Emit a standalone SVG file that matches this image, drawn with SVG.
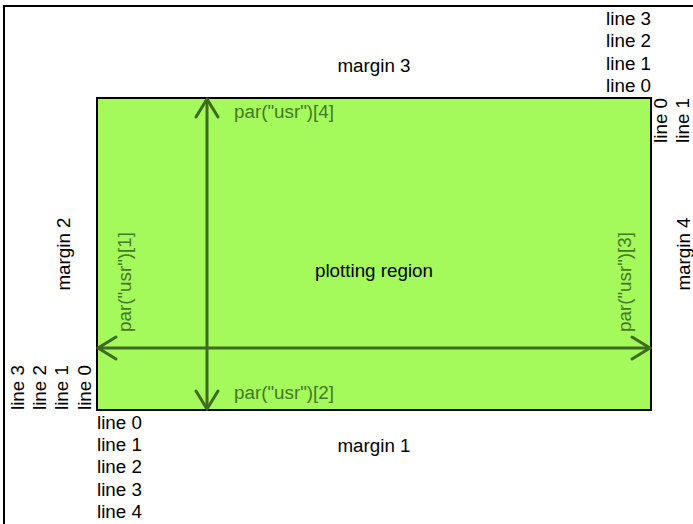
<svg xmlns="http://www.w3.org/2000/svg" width="693" height="524" viewBox="0 0 693 524">
<style>
text{font-family:"Liberation Sans",Arial,sans-serif;font-size:18.8px;fill:#000}
.usr{fill:#47772a}
.arr{stroke:#3f6a1f;stroke-width:3;fill:none;stroke-linecap:round;stroke-linejoin:round}
.mid{text-anchor:middle}
.end{text-anchor:end}
</style>
<rect width="693" height="524" fill="#fff"/>
<g id="frame"><rect x="4" y="6" width="720" height="560" fill="none" stroke="#000" stroke-width="2"/></g>
<g id="plot-region">
<rect x="97" y="98" width="554" height="312" fill="#a3fa5a" stroke="#000" stroke-width="2"/>
<text class="mid" x="374" y="277">plotting region</text>
</g>
<g id="connectors">
<line class="arr" x1="207" y1="100" x2="207" y2="409"/>
<polyline class="arr" points="196,117 207,99 218,117"/>
<polyline class="arr" points="196,391 207,409 218,391"/>
<line class="arr" x1="98" y1="348" x2="650" y2="348"/>
<polyline class="arr" points="116,337 98,348 116,359"/>
<polyline class="arr" points="632,337 650,348 632,359"/>
</g>
<g id="usr-labels">
<text class="usr" x="234" y="118">par("usr")[4]</text>
<text class="usr" x="234" y="399">par("usr")[2]</text>
<text class="usr" transform="translate(131,332) rotate(-90)">par("usr")[1]</text>
<text class="usr" transform="translate(631,332) rotate(-90)">par("usr")[3]</text>
</g>
<g id="margin-3">
<text class="mid" x="374" y="72">margin 3</text>
<text class="end" x="651" y="25">line 3</text>
<text class="end" x="651" y="47">line 2</text>
<text class="end" x="651" y="70">line 1</text>
<text class="end" x="651" y="92">line 0</text>
</g>
<g id="margin-1">
<text class="mid" x="374" y="452">margin 1</text>
<text x="97" y="429">line 0</text>
<text x="97" y="451">line 1</text>
<text x="97" y="473">line 2</text>
<text x="97" y="496">line 3</text>
<text x="97" y="518">line 4</text>
</g>
<g id="margin-2">
<text class="mid" transform="translate(70,254) rotate(-90)">margin 2</text>
<text transform="translate(91,410) rotate(-90)">line 0</text>
<text transform="translate(68,410) rotate(-90)">line 1</text>
<text transform="translate(46,410) rotate(-90)">line 2</text>
<text transform="translate(24,410) rotate(-90)">line 3</text>
</g>
<g id="margin-4">
<text class="mid" transform="translate(690,254) rotate(-90)">margin 4</text>
<text class="end" transform="translate(667,98) rotate(-90)">line 0</text>
<text class="end" transform="translate(689,98) rotate(-90)">line 1</text>
</g>
</svg>
